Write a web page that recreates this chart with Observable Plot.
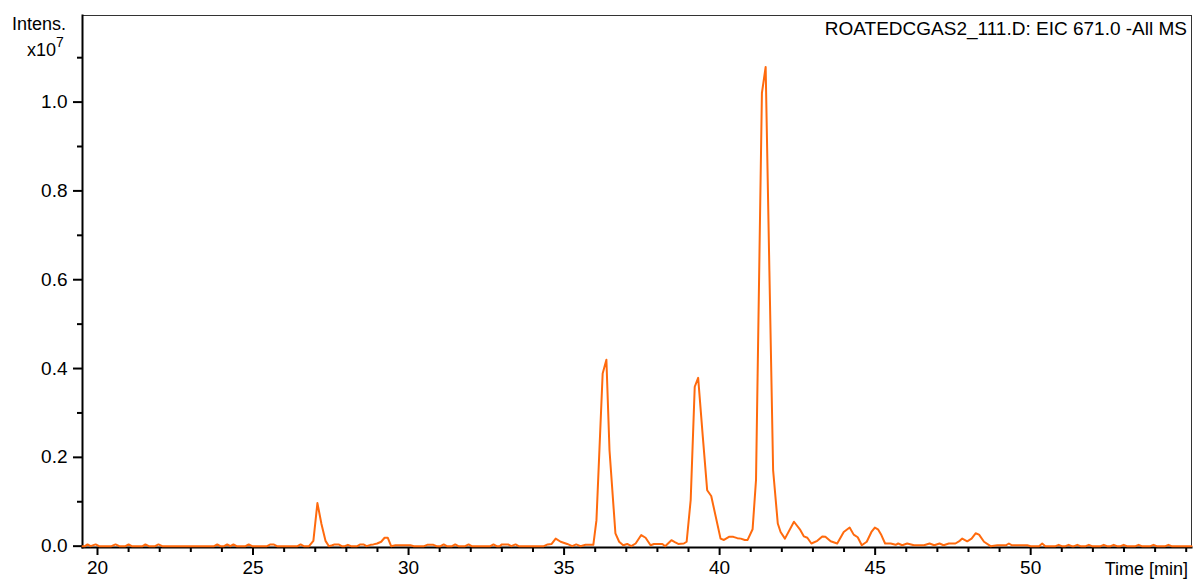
<!DOCTYPE html>
<html>
<head>
<meta charset="utf-8">
<script src="https://cdn.jsdelivr.net/npm/d3@7"></script>
<script src="https://cdn.jsdelivr.net/npm/@observablehq/plot@0.6"></script>
<style>
  html, body { margin: 0; padding: 0; background: #fff; }
  #chart { position: relative; width: 1193px; height: 581px; }
</style>
</head>
<body>
<div id="chart"></div>
<script>
// Retention time (min)
const times = [
  19.52, 19.6, 19.68, 19.78, 19.94, 20.05, 20.45, 20.58, 20.7, 20.9, 21.0, 21.1, 21.45, 21.54, 21.65, 21.85, 21.96, 22.08,
  23.75, 23.85, 23.95, 24.07, 24.17, 24.27, 24.37, 24.47, 24.76, 24.86, 24.97, 25.45, 25.56, 25.66, 25.77, 26.43, 26.53, 26.63,
  26.8, 26.94, 27.07, 27.2, 27.33, 27.44, 27.55, 27.62, 27.75, 27.85, 27.95, 28.05, 28.15, 28.35, 28.45, 28.55, 28.65, 28.78,
  28.87, 28.99, 29.12, 29.23, 29.33, 29.44, 29.58, 29.8, 30.06, 30.17, 30.5, 30.6, 30.8, 30.9, 31.03, 31.13, 31.23, 31.4, 31.5,
  31.6, 31.82, 31.93, 32.03, 32.63, 32.73, 32.83, 32.93, 33.0, 33.2, 33.3, 33.44, 33.54, 34.35, 34.47, 34.6, 34.73, 34.89, 35.1,
  35.26, 35.39, 35.53, 35.69, 35.82, 35.94, 36.04, 36.24, 36.36, 36.46, 36.65, 36.77, 36.9, 37.03, 37.16, 37.3, 37.48, 37.62,
  37.78, 37.89, 38.16, 38.25, 38.45, 38.56, 38.67, 38.85, 38.94, 39.07, 39.2, 39.31, 39.46, 39.6, 39.73, 40.03, 40.14, 40.3,
  40.44, 40.57, 40.68, 40.81, 40.9, 41.06, 41.17, 41.36, 41.48, 41.6, 41.72, 41.87, 41.96, 42.1, 42.39, 42.58, 42.71, 42.82,
  42.95, 43.14, 43.3, 43.4, 43.57, 43.78, 43.99, 44.18, 44.31, 44.44, 44.57, 44.73, 44.88, 44.99, 45.09, 45.2, 45.32, 45.5,
  45.66, 45.74, 45.87, 46.03, 46.25, 46.57, 46.75, 46.9, 47.07, 47.2, 47.37, 47.58, 47.72, 47.8, 47.96, 48.1, 48.23, 48.34,
  48.5, 48.71, 48.93, 49.2, 49.3, 49.4, 49.89, 50.0, 50.27, 50.37, 50.47, 50.8, 50.9, 51.0, 51.12, 51.22, 51.32, 51.4, 51.5,
  51.6, 51.77, 51.87, 51.97, 52.25, 52.35, 52.45, 52.57, 52.67, 52.77, 52.89, 52.99, 53.09, 53.37, 53.47, 53.57, 53.85, 53.95,
  54.05, 54.33, 54.43, 54.53, 55.17
];
// Intensity (x10^7)
const intensities = [
  0, 0, 0.004, 0, 0.004, 0, 0, 0.004, 0, 0, 0.004, 0, 0, 0.004, 0, 0, 0.004, 0,
  0, 0.004, 0, 0, 0.004, 0, 0.004, 0, 0, 0.004, 0, 0, 0.004, 0.004, 0, 0, 0.004, 0,
  0, 0.012, 0.097, 0.05, 0.012, 0, 0.002, 0.004, 0.004, 0, 0, 0.003, 0, 0, 0.004, 0.004, 0, 0.003,
  0.004, 0.006, 0.01, 0.019, 0.019, 0, 0.002, 0.002, 0.002, 0, 0, 0.003, 0.003, 0, 0, 0.004, 0, 0, 0.004,
  0, 0, 0.004, 0, 0, 0.004, 0, 0, 0.004, 0.004, 0, 0.004, 0, 0, 0.004, 0.005, 0.017, 0.01, 0.005,
  0, 0.004, 0, 0.003, 0.003, 0.003, 0.058, 0.389, 0.42, 0.216, 0.029, 0.01, 0.002, 0.005, 0, 0.006, 0.025, 0.019,
  0.002, 0.005, 0.005, 0, 0.0135, 0.009, 0.005, 0.006, 0.01, 0.104, 0.359, 0.379, 0.246, 0.126, 0.113, 0.017, 0.014, 0.021,
  0.021, 0.018, 0.017, 0.014, 0.014, 0.038, 0.149, 1.021, 1.079, 0.62, 0.171, 0.051, 0.032, 0.017, 0.055, 0.038, 0.022, 0.019,
  0.006, 0.012, 0.022, 0.021, 0.011, 0.006, 0.032, 0.042, 0.026, 0.02, 0.002, 0.01, 0.032, 0.042, 0.038, 0.025, 0.006, 0.006,
  0.003, 0.006, 0.002, 0.006, 0.002, 0.002, 0.006, 0.002, 0.006, 0.002, 0.006, 0.006, 0.012, 0.017, 0.011, 0.017, 0.029, 0.026,
  0.01, 0, 0.002, 0.002, 0.006, 0.002, 0.002, 0, 0, 0.006, 0, 0, 0.003, 0, 0, 0.003, 0, 0, 0.003,
  0, 0, 0.003, 0, 0, 0.003, 0, 0, 0.003, 0, 0, 0.003, 0, 0, 0.003, 0, 0, 0.003,
  0, 0, 0.003, 0, 0
];
const xMajorTicks = [20, 25, 30, 35, 40, 45, 50];
const xMinorTicks = [21, 22, 23, 24, 26, 27, 28, 29, 31, 32, 33, 34, 36, 37, 38, 39, 41, 42, 43, 44, 46, 47, 48, 49, 51, 52, 53, 54, 55];
const yMajorTicks = [0, 0.2, 0.4, 0.6, 0.8, 1.0];
const yMinorTicks = [0.1, 0.3, 0.5, 0.7, 0.9, 1.1];
const titleText = "ROATEDCGAS2_111.D: EIC 671.0 -All MS";
const xAxisLabel = "Time [min]";
const yAxisLabel = "Intens.";

const rows = times.map((t, i) => ({t, v: intensities[i]}));

const chart = Plot.plot({
  width: 1193,
  height: 581,
  marginLeft: 82,
  marginRight: 2,
  marginTop: 15,
  marginBottom: 34,
  style: {fontFamily: "'Liberation Sans', Arial, sans-serif", fontSize: "19px", color: "#000", background: "#fff"},
  x: {domain: [19.518, 55.17], label: null},
  y: {domain: [-0.003, 1.195], label: null},
  marks: [
    Plot.frame({stroke: "#333", strokeWidth: 1}),
    Plot.axisX({ticks: xMinorTicks, tickSize: 5, tickFormat: () => "", label: null, strokeWidth: 2}),
    Plot.axisX({ticks: xMajorTicks, tickSize: 8, tickPadding: 5, tickFormat: d => String(d), label: null, strokeWidth: 2}),
    Plot.axisY({ticks: yMinorTicks, tickSize: 5, tickFormat: () => "", label: null, strokeWidth: 2}),
    Plot.axisY({ticks: yMajorTicks, tickSize: 9, tickPadding: 6, tickFormat: d3.format(".1f"), label: null, strokeWidth: 2}),
    Plot.frame({anchor: "left", stroke: "#000", strokeWidth: 2}),
    Plot.frame({anchor: "bottom", stroke: "#000", strokeWidth: 2}),
    Plot.lineY(rows, {x: "t", y: "v", stroke: "#ff6a0d", strokeWidth: 2, curve: "linear"})
  ]
});

document.getElementById("chart").appendChild(chart);

const svg = d3.select(chart);
const font = "'Liberation Sans', Arial, sans-serif";
svg.append("text").attr("x", 12).attr("y", 30).attr("text-anchor", "start").attr("font-family", font).attr("font-size", 18).attr("fill", "#000").text(yAxisLabel);
const mult = svg.append("text").attr("x", 27).attr("y", 56).attr("text-anchor", "start").attr("font-family", font).attr("font-size", 18).attr("fill", "#000");
mult.append("tspan").text("x10");
mult.append("tspan").attr("dy", -9).attr("font-size", 14).text("7");
svg.append("text").attr("x", 1187).attr("y", 35).attr("text-anchor", "end").attr("font-family", font).attr("font-size", 19).attr("fill", "#000").text(titleText);
svg.append("text").attr("x", 1188).attr("y", 575).attr("text-anchor", "end").attr("font-family", font).attr("font-size", 18).attr("fill", "#000").text(xAxisLabel);
</script>
</body>
</html>
